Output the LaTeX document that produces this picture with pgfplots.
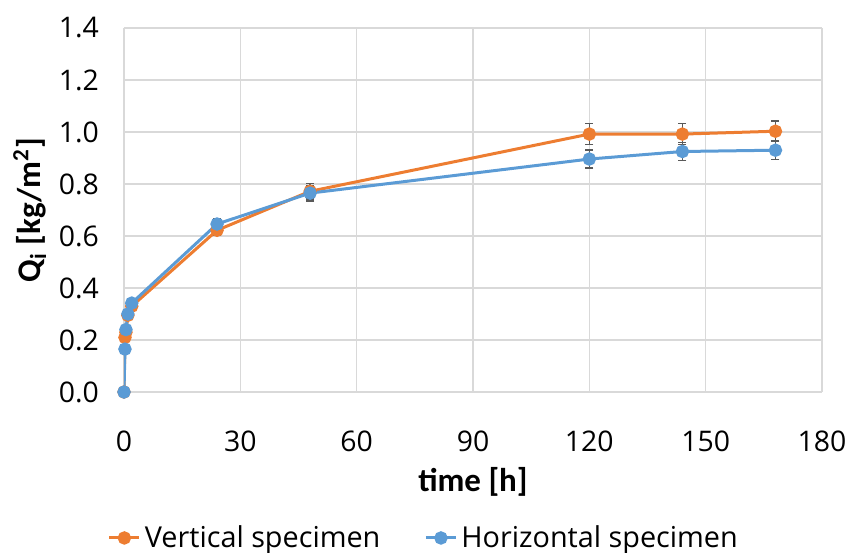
\documentclass[border=0pt]{standalone}
\usepackage{pgfplots}
\pgfplotsset{compat=1.18}
\usepackage{fontspec}
\setmainfont{Carlito}
\newfontfamily\osans{Open Sans}
\definecolor{xlorange}{HTML}{ED7D31}
\definecolor{xlblue}{HTML}{5B9BD5}
\definecolor{gridgray}{HTML}{D9D9D9}
\definecolor{errgray}{HTML}{595959}
\begin{document}
\begin{tikzpicture}
\begin{axis}[
  name=ax,
  scale only axis,
  width=349pt, height=182pt,
  xmin=0, xmax=180, ymin=0, ymax=1.4,
  xtick={0,30,60,90,120,150,180},
  ytick={0,0.2,0.4,0.6,0.8,1.0,1.2,1.4},
  /pgf/number format/assume math mode=true,
  tick label style={font=\osans\fontsize{14.2}{17}\selectfont},
  yticklabel style={/pgf/number format/fixed, /pgf/number format/fixed zerofill, /pgf/number format/precision=1, xshift=-9pt},
  xticklabel style={anchor=center, yshift=-24.5pt},
  major tick length=0pt,
  axis line style={draw=none},
  grid=major,
  major grid style={gridgray, line width=0.6pt},
  xlabel={\textbf{time [h]}},
  ylabel={\textbf{Q\textsubscript{i} [kg/m\textsuperscript{2}]}},
  label style={font=\fontsize{16.5}{19}\selectfont},
  xlabel style={at={(axis description cs:0.5,0)}, anchor=center, yshift=-45pt},
  ylabel style={at={(axis description cs:-0.135,0.5)}, anchor=center},
  legend columns=2,
  legend style={at={(0.431,-0.401)}, anchor=center, draw=none, font=\osans\fontsize{14.4}{17}\selectfont,
    inner sep=0pt,
    /tikz/every even column/.append style={column sep=20pt}},
  legend cell align=left,
  legend image code/.code={
    \draw[#1, mark=none] (0pt,0pt) -- (15pt,0pt);
    \draw[#1, only marks] plot coordinates {(7.5pt,0pt)};
  },
  error bars/error bar style={line width=0.8pt, draw=errgray},
  error bars/error mark options={rotate=90, mark size=2pt, line width=0.8pt, draw=errgray},
]
\addplot[xlorange, line width=1.5pt, mark=*, mark size=2.6pt,
  error bars/.cd, y dir=both, y explicit]
  coordinates {
  (0,0) +- (0,0)
  (0.25,0.21) +- (0,0.01)
  (0.5,0.23) +- (0,0.01)
  (1,0.295) +- (0,0.01)
  (2,0.33) +- (0,0.01)
  (24,0.622) +- (0,0.02)
  (48,0.772) +- (0,0.03)
  (120,0.992) +- (0,0.04)
  (144,0.992) +- (0,0.04)
  (168,1.003) +- (0,0.04)
  };
\addlegendentry{Vertical specimen}
\addplot[xlblue, line width=1.5pt, mark=*, mark size=2.6pt,
  error bars/.cd, y dir=both, y explicit]
  coordinates {
  (0,0) +- (0,0)
  (0.25,0.165) +- (0,0.01)
  (0.5,0.24) +- (0,0.01)
  (1,0.30) +- (0,0.01)
  (2,0.342) +- (0,0.01)
  (24,0.646) +- (0,0.02)
  (48,0.765) +- (0,0.03)
  (120,0.896) +- (0,0.035)
  (144,0.925) +- (0,0.035)
  (168,0.930) +- (0,0.035)
  };
\addlegendentry{Horizontal specimen}
\end{axis}
\pgfresetboundingbox
\path ([shift={(-62pt,-80pt)}]ax.south west) rectangle ([shift={(14.5pt,14pt)}]ax.north east);
\end{tikzpicture}
\end{document}
